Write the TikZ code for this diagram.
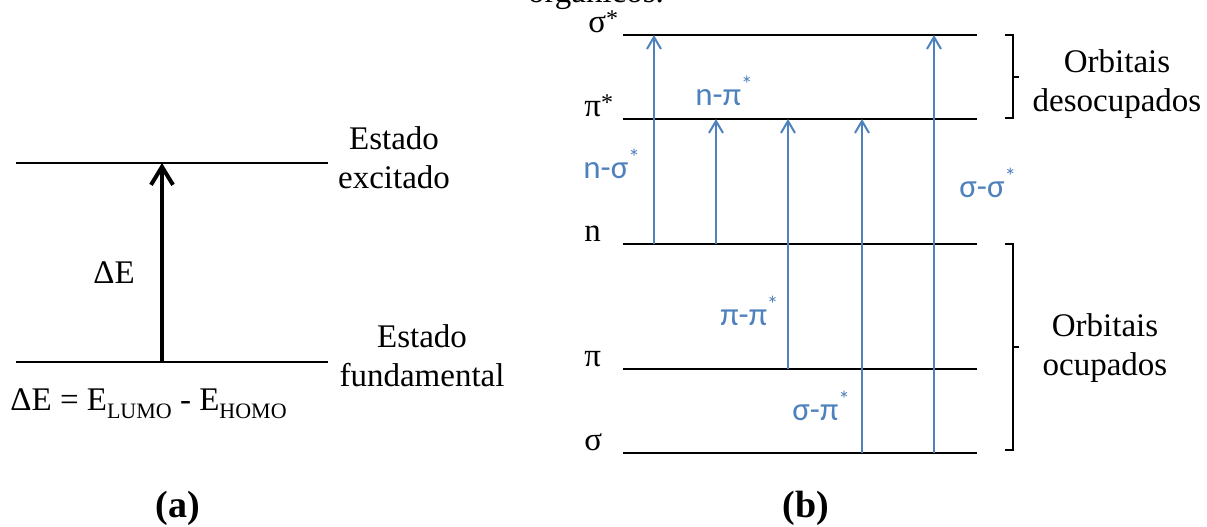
\documentclass[tikz,border=0pt]{standalone}
\usepackage{fontspec}
\setmainfont{Liberation Serif}
\newfontfamily\labfont{Carlito}
\usetikzlibrary{arrows.meta}
\definecolor{transblue}{RGB}{79,129,189}
\newcommand{\lsub}[1]{\raisebox{-4pt}{\fontsize{11}{11}\selectfont #1}}
\newcommand{\st}{\textsuperscript{*}}
\newcommand{\lst}{\raisebox{3pt}{\fontsize{12}{12}\selectfont *}}

\begin{document}
\begin{tikzpicture}[x=0.5pt, y=-0.5pt, font=\fontsize{16.5}{19.5}\selectfont,
      lvl/.style={line width=1pt, black},
      big/.style={-{Straight Barb[length=9pt,width=11pt]}, line width=2pt, black},
      trans/.style={-{Straight Barb[length=6pt,width=7pt]}, line width=1pt, transblue},
      tlab/.style={text=transblue, font=\labfont\fontsize{16.5}{19}\selectfont, inner sep=0pt, anchor=base west},
      lev/.style={inner sep=0pt, anchor=base west},
      txt/.style={align=center, inner sep=0pt},
      brk/.style={line width=0.9pt, black}]
    \useasboundingbox (0,0) rectangle (1207,526);
    % caption fragment, cut at the top
    \node[inner sep=0pt, anchor=base] (capt) at (596,2) {orgânicos.};

    % (a) ground and excited state
    \coordinate (exL) at (16,163);  \coordinate (exR) at (328,163);
    \coordinate (gsL) at (16,362);  \coordinate (gsR) at (328,362);
    \draw[lvl] (exL) -- (exR);
    \draw[lvl] (gsL) -- (gsR);
    \draw[big] (162,0 |- gsL) -- (162,0 |- exL);
    \node[txt] (de) at (114,273) {ΔE};
    \node[txt] (exc) at (394,158) {Estado\\excitado};
    \node[txt] (fund) at (422,356) {Estado\\fundamental};
    \node[lev] (eq) at (10,410) {ΔE = E\lsub{LUMO} - E\lsub{HOMO}};
    \node[txt, font=\fontsize{19}{21}\selectfont\bfseries] (capa) at (178,508) {(a)};

    % (b) orbital levels
    \coordinate (ssL) at (623,35);   \coordinate (ssR) at (977,35);
    \coordinate (psL) at (623,119);  \coordinate (psR) at (977,119);
    \coordinate (nL)  at (623,244);  \coordinate (nR)  at (977,244);
    \coordinate (pL)  at (623,369);  \coordinate (pR)  at (977,369);
    \coordinate (sL)  at (623,453);  \coordinate (sR)  at (977,453);
    \foreach \lv in {ss,ps,n,p,s}
      \draw[lvl] (\lv L) -- (\lv R);
    \node[lev] (lss) at (588,32)  {σ\lst};
    \node[lev] (lps) at (584,116) {π\lst};
    \node[lev] (ln)  at (584,241) {n};
    \node[lev] (lp)  at (584,366) {π};
    \node[lev] (ls)  at (584,450) {σ};

    % transitions
    \draw[trans] (654,0 |- nL) -- (654,0 |- ssL);
    \draw[trans] (716,0 |- nL) -- (716,0 |- psL);
    \draw[trans] (788,0 |- pL) -- (788,0 |- psL);
    \draw[trans] (862,0 |- sL) -- (862,0 |- psL);
    \draw[trans] (934,0 |- sL) -- (934,0 |- ssL);
    \node[tlab] (tnp) at (695,105) {n-π\st};
    \node[tlab] (tns) at (583,178) {n-σ\st};
    \node[tlab] (tss) at (959,197) {σ-σ\st};
    \node[tlab] (tpp) at (720,325) {π-π\st};
    \node[tlab] (tsp) at (792,420) {σ-π\st};

    % brackets
    \draw[brk] (1005,35) -- (1013,35) -- (1013,118) -- (1005,118);
    \draw[brk] (1013,77) -- (1019,77);
    \draw[brk] (1005,244) -- (1013,244) -- (1013,450) -- (1005,450);
    \draw[brk] (1013,347) -- (1019,347);
    \node[txt] (unocc) at (1117,84) {Orbitais\\desocupados};
    \node[txt] (occ) at (1105,348) {Orbitais\\ocupados};
    \node[txt, font=\fontsize{19}{21}\selectfont\bfseries] (capb) at (806,508) {(b)};
  \end{tikzpicture}
\end{document}
